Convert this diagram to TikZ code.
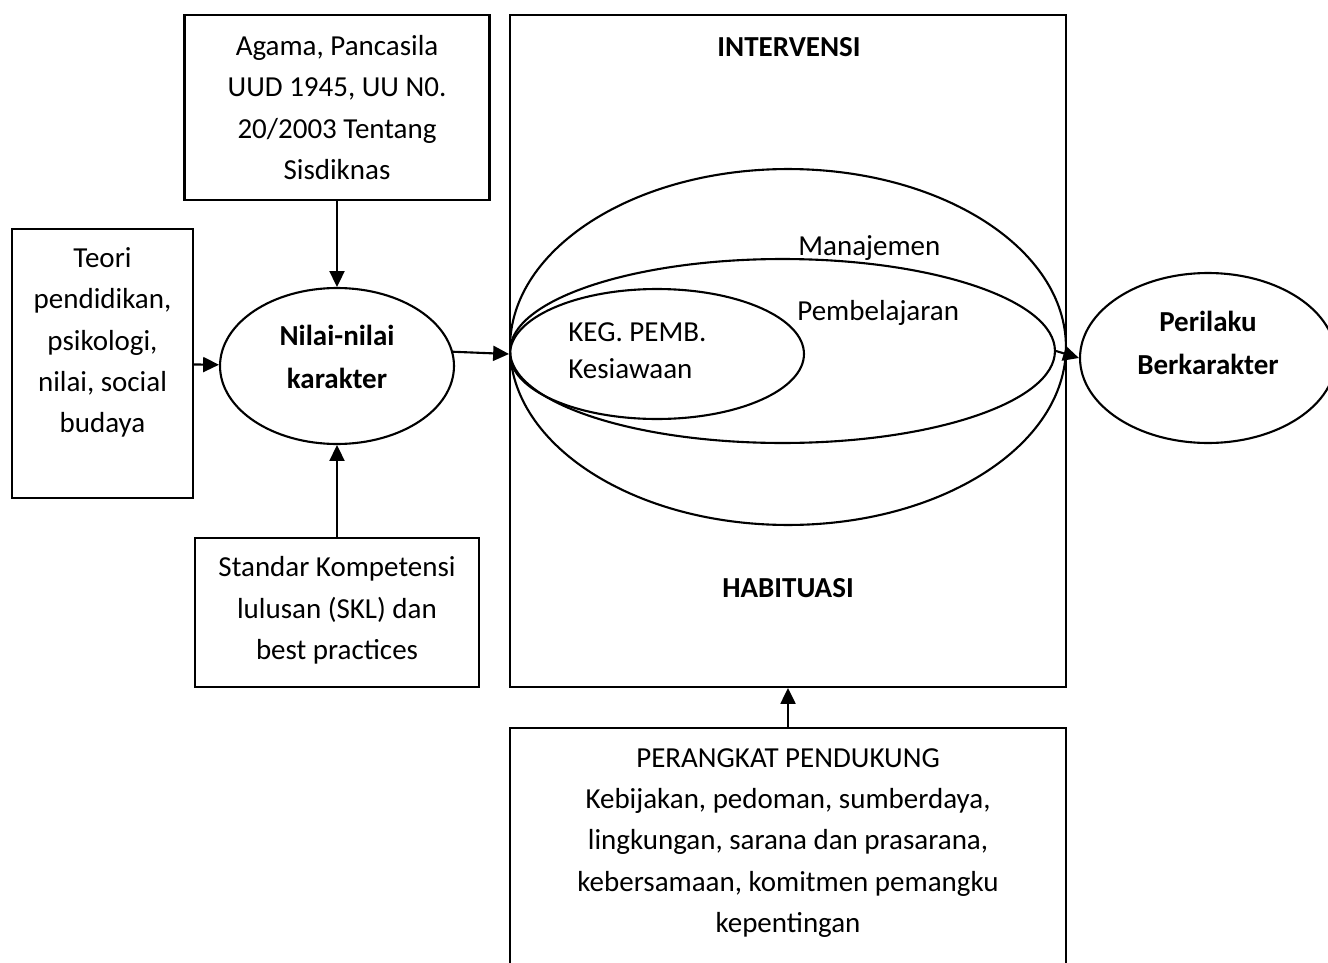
\documentclass[tikz,border=0pt]{standalone}
\usepackage{fontspec}
\setmainfont{Carlito}
\usetikzlibrary{arrows.meta,shapes.geometric}

\tikzset{
  box/.style={draw=black,line width=1.2pt,rectangle,inner sep=0pt},
  oval/.style={draw=black,line width=1.2pt,ellipse,inner sep=0pt},
  txt/.style={align=center,inner sep=0pt,anchor=north,font=\fontsize{16.5}{23.5}\selectfont},
  lbl/.style={inner sep=0pt,font=\fontsize{16.5}{23.5}\selectfont},
  bold/.style={align=center,inner sep=0pt,font=\fontsize{16.5}{24.5}\selectfont\bfseries},
  arr/.style={-{Triangle[length=9pt,width=8.5pt]},line width=1.2pt}
}

\begin{document}
\begin{tikzpicture}[x=0.02cm,y=-0.02cm]
    \useasboundingbox (0,0) rectangle (1328,963);

    % insert boxes
    \node[box,minimum width=6.1cm,minimum height=3.7cm] (agama) at (337,107.5) {};
    \node[box,minimum width=3.62cm,minimum height=5.38cm] (teori) at (102.5,363.5) {};
    \node[box,minimum width=5.68cm,minimum height=2.98cm] (standar) at (337,612.5) {};
    \node[box,minimum width=11.12cm,minimum height=13.44cm] (intervensi) at (788,351) {};
    \node[box,minimum width=11.12cm,minimum height=4.94cm] (perangkat) at (788,851.5) {};

    % insert box texts
    \node[txt] (agamatext) at ([yshift=-12pt]agama.north) {Agama, Pancasila\\UUD 1945, UU N0.\\20/2003 Tentang\\Sisdiknas};
    \node[txt] (teoritext) at ([yshift=-11pt]teori.north) {Teori\\pendidikan,\\psikologi,\\nilai, social\\budaya};
    \node[txt] (standartext) at ([yshift=-11pt]standar.north) {Standar Kompetensi\\lulusan (SKL) dan\\best practices};
    \node[txt] (perangkattext) at ([yshift=-12pt]perangkat.north) {PERANGKAT PENDUKUNG\\Kebijakan, pedoman, sumberdaya,\\lingkungan, sarana dan prasarana,\\kebersamaan, komitmen pemangku\\kepentingan};
    \node[bold] (intervensitext) at (789,47) {INTERVENSI};
    \node[bold] (habituasitext) at (788,588) {HABITUASI};

    % insert ellipses
    \node[oval,minimum width=4.68cm,minimum height=3.12cm] (nilai) at (337,366) {};
    \node[oval,minimum width=5.12cm,minimum height=3.4cm] (perilaku) at (1208,358) {};
    \node[oval,minimum width=11.12cm,minimum height=7.12cm] (manajemen) at (788,347) {};
    \node[oval,minimum width=10.9cm,minimum height=3.68cm] (pembelajaran) at (782.5,351) {};
    \node[oval,minimum width=5.88cm,minimum height=2.6cm] (kegpemb) at (657,354) {};

    % insert ellipse texts
    \node[bold] (nilaitext) at (337,357) {Nilai-nilai\\karakter};
    \node[bold] (perilakutext) at (1208,343) {Perilaku\\Berkarakter};
    \node[lbl,anchor=west] (manajementext) at (798,248) {Manajemen};
    \node[lbl,anchor=west] (pembelajarantext) at (797,313) {Pembelajaran};
    \node[lbl,anchor=west,align=left,font=\fontsize{16.5}{21}\selectfont] (kegpembtext) at (568,351) {KEG. PEMB.\\Kesiawaan};

    % insert links
    \draw[arr] (agama) -- (nilai);
    \draw[arr] (standar) -- (nilai);
    \draw[arr] (teori) -- (nilai);
    \draw[arr] (nilai.7) -- (kegpemb.west);
    \draw[arr] (pembelajaran.east) -- (perilaku.west);
    \draw[arr] (perangkat) -- (intervensi);
\end{tikzpicture}
\end{document}
